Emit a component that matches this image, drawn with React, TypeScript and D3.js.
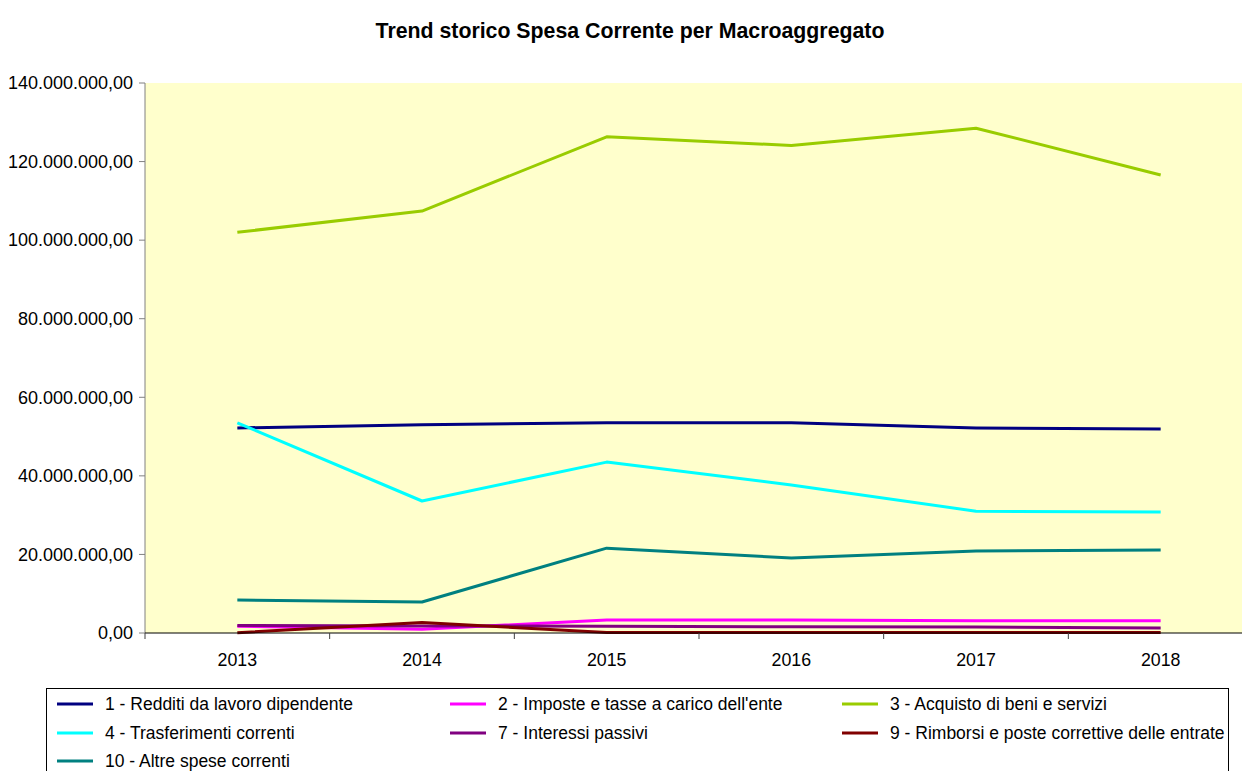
import React from 'react'
import * as d3 from 'd3'

const years = ['2013', '2014', '2015', '2016', '2017', '2018']

const redditi = [52.2e6, 53.0e6, 53.5e6, 53.5e6, 52.2e6, 51.9e6]
const imposte = [1.7e6, 0.95e6, 3.3e6, 3.3e6, 3.1e6, 3.1e6]
const acquisto = [102.0e6, 107.4e6, 126.3e6, 124.1e6, 128.5e6, 116.6e6]
const trasferimenti = [53.5e6, 33.6e6, 43.5e6, 37.7e6, 31.0e6, 30.8e6]
const interessi = [1.9e6, 1.8e6, 1.7e6, 1.6e6, 1.5e6, 1.3e6]
const rimborsi = [0.05e6, 2.7e6, 0.1e6, 0.1e6, 0.1e6, 0.1e6]
const altre = [8.4e6, 7.9e6, 21.6e6, 19.1e6, 20.9e6, 21.1e6]

const yTicks = [0, 20e6, 40e6, 60e6, 80e6, 100e6, 120e6, 140e6]

const series = [
  { name: '1 - Redditi da lavoro dipendente', values: redditi, color: '#000080' },
  { name: "2 - Imposte e tasse a carico dell'ente", values: imposte, color: '#FF00FF' },
  { name: '3 - Acquisto di beni e servizi', values: acquisto, color: '#99CC00' },
  { name: '4 - Trasferimenti correnti', values: trasferimenti, color: '#00FFFF' },
  { name: '7 - Interessi passivi', values: interessi, color: '#800080' },
  { name: '9 - Rimborsi e poste correttive delle entrate', values: rimborsi, color: '#800000' },
  { name: '10 - Altre spese correnti', values: altre, color: '#008080' },
]

const itLocale = d3.formatLocale({ decimal: ',', thousands: '.', grouping: [3], currency: ['€', ''] })
const fmt = itLocale.format(',.2f')

const width = 1242
const height = 771
const font = 'Arial, "Liberation Sans", sans-serif'

export default function App () {
  const plot = { left: 145, right: 1253, top: 83, bottom: 633 }

  const x = d3.scaleBand().domain(years).range([plot.left, plot.right])
  const y = d3.scaleLinear().domain([0, 140e6]).range([plot.bottom, plot.top])

  const line = d3.line<number>()
    .x((d, i) => (x(years[i]) as number) + x.bandwidth() / 2)
    .y(d => y(d))

  const boundaries = years.map(yr => x(yr) as number).concat([plot.right])

  const legendCols = [57, 450, 842]
  const legendRows = [704, 733, 761]

  return (
    <svg width={width} height={height} style={{ position: 'absolute', left: 0, top: 0 }}
      fontFamily={font}>
      <rect x={0} y={0} width={width} height={height} fill='#fff' />
      <text x={630} y={38} textAnchor='middle' fontSize={21.3} fontWeight='bold'>
        Trend storico Spesa Corrente per Macroaggregato
      </text>

      <rect x={plot.left} y={plot.top} width={plot.right - plot.left}
        height={plot.bottom - plot.top} fill='#FFFFCC' />

      {/* y axis */}
      <line x1={plot.left} x2={plot.left} y1={plot.top} y2={plot.bottom} stroke='#808080' strokeWidth={1} />
      {yTicks.map(t => (
        <g key={t}>
          <line x1={plot.left - 6} x2={plot.left} y1={y(t)} y2={y(t)} stroke='#808080' />
          <text x={plot.left - 12} y={y(t)} dy='0.35em' textAnchor='end' fontSize={18}>{fmt(t)}</text>
        </g>
      ))}

      {/* lines */}
      {series.map(s => (
        <path key={s.name} d={line(s.values) as string} fill='none' stroke={s.color}
          strokeWidth={3} strokeLinejoin='round' />
      ))}

      {/* x axis */}
      <line x1={plot.left} x2={plot.right} y1={plot.bottom} y2={plot.bottom} stroke='#000' />
      {boundaries.map((b, i) => (
        <line key={i} x1={b} x2={b} y1={plot.bottom} y2={plot.bottom + 6} stroke='#404040' />
      ))}
      {years.map(yr => (
        <text key={yr} x={(x(yr) as number) + x.bandwidth() / 2} y={666} textAnchor='middle' fontSize={17.8}>
          {yr}
        </text>
      ))}

      {/* legend */}
      <rect x={46.5} y={688.5} width={1182} height={100} fill='#fff' stroke='#000' />
      {series.map((s, i) => {
        const cx = legendCols[i % 3]
        const cy = legendRows[Math.floor(i / 3)]
        return (
          <g key={s.name}>
            <line x1={cx} x2={cx + 36} y1={cy} y2={cy} stroke={s.color} strokeWidth={3} />
            <text x={cx + 48} y={cy} dy='0.35em' fontSize={17.5}>{s.name}</text>
          </g>
        )
      })}
    </svg>
  )
}
